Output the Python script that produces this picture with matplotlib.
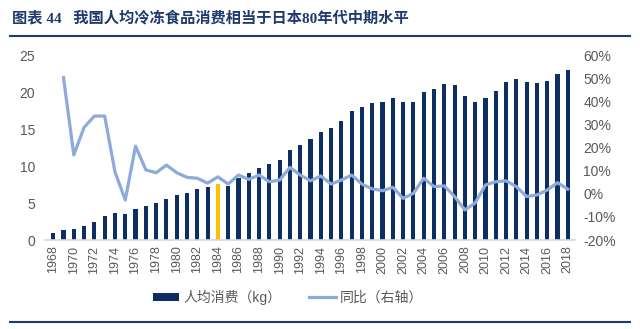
import matplotlib
import matplotlib.pyplot as plt
from matplotlib.lines import Line2D
from matplotlib.patches import Patch
from matplotlib.ticker import FuncFormatter

matplotlib.use("Agg")

plt.rcParams["font.family"] = ["Liberation Sans", "Noto Sans CJK SC"]

years = list(range(1968, 2019))
per_capita_kg = [
    0.9, 1.35, 1.45, 1.9, 2.5, 3.25, 3.6, 3.5, 4.2, 4.6,
    4.95, 5.5, 6.1, 6.4, 6.9, 7.1, 7.6, 7.3, 8.4, 9.0,
    9.7, 10.3, 10.8, 12.2, 12.8, 13.65, 14.55, 15.2, 16.1, 17.4,
    18.0, 18.55, 18.7, 19.2, 18.7, 18.7, 20.0, 20.45, 21.1, 20.9,
    19.45, 18.6, 19.2, 20.2, 21.3, 21.7, 21.3, 21.2, 21.5, 22.5,
    23.0,
]
yoy_years = years[1:]
yoy_pct = [
    50.2, 16.8, 28.7, 33.6, 33.6, 9.5, -2.7, 20.6, 10.3, 9.1,
    12.4, 9.1, 7.1, 6.7, 4.6, 7.3, 4.2, 8.1, 6.2, 8.1,
    5.2, 5.9, 11.4, 8.1, 5.6, 7.7, 4.2, 5.9, 8.1, 4.2,
    2.1, 1.3, 2.8, -2.0, 0.2, 6.7, 3.1, 3.4, -1.2, -7.0,
    -4.0, 3.8, 5.2, 5.6, 3.1, -1.2, -0.5, 1.6, 4.8, 2.0,
]
highlight_year = 1984
tick_years = years[::2]

navy = "#0C2E62"
gold = "#FFC000"
light_blue = "#8EAADB"
title_blue = "#1F3A6E"
grey = "#595959"

fig = plt.figure(figsize=(6.4, 3.29), dpi=100)
ax = fig.add_axes([0.0703, 0.2705, 0.8281, 0.5623])
ax2 = ax.twinx()

colors = [gold if y == highlight_year else navy for y in years]
ax.bar(years, per_capita_kg, width=0.4, color=colors, zorder=2)
ax2.plot(yoy_years, yoy_pct, color=light_blue, lw=2.3, zorder=3)

ax.set_xlim(1967.2, 2018.7)
ax.set_ylim(0, 25)
ax.set_yticks(range(0, 26, 5))
ax2.set_ylim(-20, 60)
ax2.set_yticks(range(-20, 61, 10))
ax2.yaxis.set_major_formatter(FuncFormatter(lambda v, _: f"{v:.0f}%"))
ax.set_xticks(tick_years)
ax.set_xticklabels([str(y) for y in tick_years], rotation=90)

for a in (ax, ax2):
    for s in a.spines.values():
        s.set_visible(False)
    a.tick_params(length=0, labelsize=10, colors=grey)
ax.tick_params(axis="x", labelsize=9, pad=4)
ax.tick_params(axis="y", pad=7)
ax2.tick_params(axis="y", pad=6)
ax.spines["bottom"].set_visible(True)
ax.spines["bottom"].set_color("#D9D9D9")
ax.spines["bottom"].set_linewidth(1.2)

handles = [
    Patch(facecolor=navy, edgecolor="none"),
    Line2D([], [], color=light_blue, lw=2.3),
]
fig.legend(
    handles, ["人均消费（kg）", "同比（右轴）"],
    loc="center", bbox_to_anchor=(0.45, 0.097), ncol=2, frameon=False,
    fontsize=10, labelcolor=grey, handlelength=1.9, handleheight=0.5,
    columnspacing=2.0, handletextpad=0.3,
)

fig.text(0.018, 0.945, "图表 44   我国人均冷冻食品消费相当于日本80年代中期水平",
         family=["Liberation Serif", "Noto Sans CJK SC"], fontweight="bold",
         fontsize=11, color=title_blue, va="center", ha="left")
fig.add_artist(Line2D([0.016, 0.984], [0.89, 0.89], color=title_blue, lw=1.5))
fig.add_artist(Line2D([0.016, 0.984], [0.021, 0.021], color=title_blue, lw=1.5))

fig.savefig("out.png", dpi=100)
plt.close(fig)
